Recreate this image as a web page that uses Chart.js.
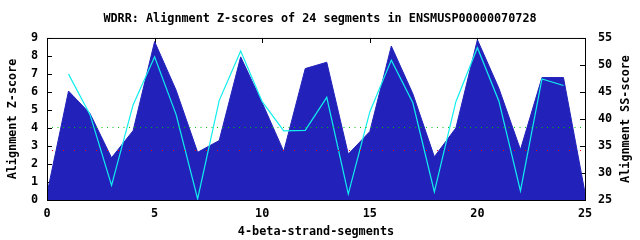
<!DOCTYPE html>
<html>
<head>
<meta charset="utf-8">
<script src="https://cdn.jsdelivr.net/npm/chart.js@4/dist/chart.umd.min.js"></script>
<style>
  html, body { margin: 0; padding: 0; background: #fff; }
  #wrap { width: 640px; height: 240px; }
</style>
</head>
<body>
<div id="wrap"><canvas id="chart" width="640" height="240"></canvas></div>
<script>
// segment positions along the x axis
const segments = [0, 1, 2, 3, 4, 5, 6, 7, 8, 9, 10, 11, 12, 13, 14, 15, 16, 17, 18, 19, 20, 21, 22, 23, 24, 25];

// alignment Z-score per segment (left axis, blue area)
const zScores = [0.35, 6.05, 4.8, 2.35, 3.85, 8.8, 6.1, 2.65, 3.3, 7.95, 5.4, 2.7, 7.3,
                 7.65, 2.55, 3.8, 8.55, 5.9, 2.4, 4.0, 8.9, 6.2, 2.8, 6.8, 6.8, 0.4];

// alignment SS-score per segment (right axis, cyan line); no value at 0 and 25
const ssScores = [null, 48.3, 40.8, 27.7, 42.6, 51.5, 40.8, 25.2, 43.4, 52.6, 43.2, 37.8, 37.9,
                  44.0, 26.1, 41.3, 50.9, 43.0, 26.5, 43.2, 53.2, 43.3, 26.7, 47.4, 46.2, null];

// dotted reference levels on the Z-score axis
const redLevel = 2.75;
const greenLevel = 4.03;

const FONT = 'DejaVu Sans Mono';
Chart.defaults.font.family = FONT;
Chart.defaults.font.size = 11.8;
Chart.defaults.font.weight = 'bold';
Chart.defaults.color = '#000';

function points(ys) {
  return segments.map((x, i) => ({ x: x, y: ys[i] }));
}

function level(v) {
  return [{ x: segments[0], y: v }, { x: segments[segments.length - 1], y: v }];
}

// gnuplot style frame: inward ticks, black border, right axis title
const frame = {
  id: 'frame',
  beforeDatasetsDraw(chart) {
    const { ctx, chartArea: a, scales } = chart;
    ctx.save();
    ctx.strokeStyle = '#000';
    ctx.lineWidth = 1;
    ctx.beginPath();
    scales.x.ticks.forEach(t => {
      const px = Math.round(scales.x.getPixelForValue(t.value)) + 0.5;
      ctx.moveTo(px, a.top); ctx.lineTo(px, a.top + 5);
      ctx.moveTo(px, a.bottom); ctx.lineTo(px, a.bottom - 5);
    });
    scales.y.ticks.forEach(t => {
      const py = Math.round(scales.y.getPixelForValue(t.value)) + 0.5;
      ctx.moveTo(a.left, py); ctx.lineTo(a.left + 5, py);
    });
    scales.y2.ticks.forEach(t => {
      const py = Math.round(scales.y2.getPixelForValue(t.value)) + 0.5;
      ctx.moveTo(a.right, py); ctx.lineTo(a.right - 5, py);
    });
    ctx.stroke();
    ctx.restore();
  },
  afterDatasetsDraw(chart) {
    const { ctx, chartArea: a } = chart;
    ctx.save();
    ctx.strokeStyle = '#000';
    ctx.lineWidth = 1;
    ctx.strokeRect(a.left + 0.5, a.top + 0.5, a.right - a.left, a.bottom - a.top);
    ctx.restore();
  },
  afterDraw(chart) {
    const { ctx, chartArea: a } = chart;
    ctx.save();
    ctx.translate(626, (a.top + a.bottom) / 2);
    ctx.rotate(-Math.PI / 2);
    ctx.font = 'bold 11.8px "' + FONT + '"';
    ctx.fillStyle = '#000';
    ctx.textAlign = 'center';
    ctx.textBaseline = 'middle';
    ctx.fillText('Alignment SS-score', 0, 0);
    ctx.restore();
  }
};

new Chart(document.getElementById('chart').getContext('2d'), {
  type: 'line',
  data: {
    datasets: [
      {
        label: 'red level',
        data: level(redLevel),
        yAxisID: 'y',
        borderColor: '#ee0000',
        borderWidth: 1,
        borderDash: [1, 10],
        borderDashOffset: 6,
        pointRadius: 0,
        fill: false,
        order: 1
      },
      {
        label: 'green level',
        data: level(greenLevel),
        yAxisID: 'y',
        borderColor: '#00c000',
        borderWidth: 1,
        borderDash: [1, 4.5],
        borderDashOffset: 0.5,
        pointRadius: 0,
        fill: false,
        order: 1
      },
      {
        label: 'SS-score',
        data: points(ssScores),
        yAxisID: 'y2',
        borderColor: '#11eeee',
        borderWidth: 1.2,
        pointRadius: 0,
        fill: false,
        order: 2
      },
      {
        label: 'Z-score',
        data: points(zScores),
        yAxisID: 'y',
        borderColor: '#2222bb',
        backgroundColor: '#2222bb',
        borderWidth: 1,
        pointRadius: 0,
        fill: 'origin',
        order: 3
      }
    ]
  },
  options: {
    responsive: false,
    animation: false,
    devicePixelRatio: 1,
    layout: { padding: 0 },
    plugins: {
      legend: { display: false },
      tooltip: { enabled: false },
      title: {
        display: true,
        text: 'WDRR: Alignment Z-scores of 24 segments in ENSMUSP00000070728',
        font: { size: 11.8, weight: 'bold' },
        padding: { top: 11.4, bottom: 12.4 }
      }
    },
    scales: {
      x: {
        type: 'linear',
        min: 0,
        max: 25,
        grid: { display: false, drawTicks: false, tickLength: 0 },
        border: { display: false },
        ticks: { stepSize: 5, padding: 7 },
        title: { display: true, text: '4-beta-strand-segments', padding: { top: 0, bottom: 1 } },
        afterFit(scale) { scale.height = 40; }
      },
      y: {
        position: 'left',
        min: 0,
        max: 9,
        grid: { display: false, drawTicks: false, tickLength: 0 },
        border: { display: false },
        ticks: { stepSize: 1, padding: 9 },
        title: { display: true, text: 'Alignment Z-score', padding: { top: 6, bottom: 0 } },
        afterFit(scale) { scale.width = 47; }
      },
      y2: {
        position: 'right',
        min: 25,
        max: 55,
        grid: { display: false, drawTicks: false, tickLength: 0 },
        border: { display: false },
        ticks: { stepSize: 5, padding: 13 },
        afterFit(scale) { scale.width = 55; }
      }
    }
  },
  plugins: [frame]
});
</script>
</body>
</html>
